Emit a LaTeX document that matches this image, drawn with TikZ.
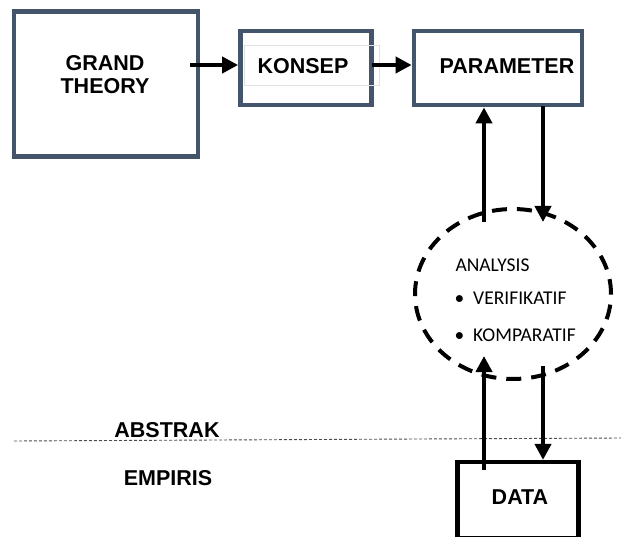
\documentclass[tikz,border=0pt]{standalone}
\usepackage{fontspec}
\setmainfont{Liberation Sans}
\newfontfamily\calib{Carlito}
\usetikzlibrary{arrows.meta,shapes.geometric}
\definecolor{slate}{HTML}{44546A}
\begin{document}
\begin{tikzpicture}[x=1pt,y=-1pt,
  bluebox/.style={draw=slate,line width=4.8pt,fill=white,inner sep=0pt},
  blackbox/.style={draw=black,line width=4.2pt,fill=white,inner sep=0pt},
  lbl/.style={font=\fontsize{21.5}{24}\selectfont\bfseries,align=center},
  anl/.style={anchor=west,font=\calib\fontsize{19.5}{21}\selectfont},
  arr/.style={line width=4.2pt,-{Triangle[length=16pt,width=16pt]}}]
\useasboundingbox (0,0) rectangle (621,537);
% boxes
\node[bluebox,minimum width=184pt,minimum height=145pt] (gt) at (106,84) {};
\node[lbl] (gtt) at (105,75) {GRAND\\[-1pt]THEORY};
\node[bluebox,minimum width=131pt,minimum height=74pt] (ko) at (306,68) {};
\node[draw=black!12,line width=0.8pt,minimum width=135pt,minimum height=40pt] (kotb) at (312,65) {};
\node[lbl] (kot) at (303,66) {KONSEP};
\node[bluebox,minimum width=168pt,minimum height=74pt] (pa) at (498,68) {};
\node[lbl] (pat) at (507,66) {PARAMETER};
% circle
\node[draw=black,line width=4pt,dash pattern=on 15pt off 10pt,ellipse,minimum width=196pt,minimum height=170pt] (an) at (513,294) {};
\node[anl] (ana) at (452,265) {ANALYSIS};
\node[anl] (ver) at (451,298) {\textbullet\hspace{9pt}VERIFIKATIF};
\node[anl] (kom) at (451,335) {\textbullet\hspace{9pt}KOMPARATIF};
% data
\node[blackbox,minimum width=121pt,minimum height=76pt] (da) at (518,500) {};
\node[lbl] (dat) at (520,497) {DATA};
% separator
\coordinate (l1) at (14,441);
\coordinate (l2) at (621,438);
\draw[black!70,line width=0.9pt,dash pattern=on 3pt off 2pt] (l1) -- (l2);
\node[lbl] (abs) at (167,430) {ABSTRAK};
\node[lbl] (emp) at (168,478) {EMPIRIS};
% connectors
\coordinate (a1) at (190,65);
\draw[arr] (a1) -- (ko.west |- a1);
\coordinate (a2) at (372,65);
\draw[arr] (a2) -- (pa.west |- a2);
\coordinate (u1) at (484,222);
\draw[arr] (u1) -- (u1 |- pa.south);
\coordinate (d1) at (543,106);
\coordinate (d1e) at (543,222);
\draw[arr] (d1) -- (d1e);
\coordinate (u2) at (484,470);
\coordinate (u2e) at (484,356);
\draw[arr] (u2) -- (u2e);
\coordinate (d2) at (543,366);
\draw[arr] (d2) -- (d2 |- da.north);
\end{tikzpicture}
\end{document}
